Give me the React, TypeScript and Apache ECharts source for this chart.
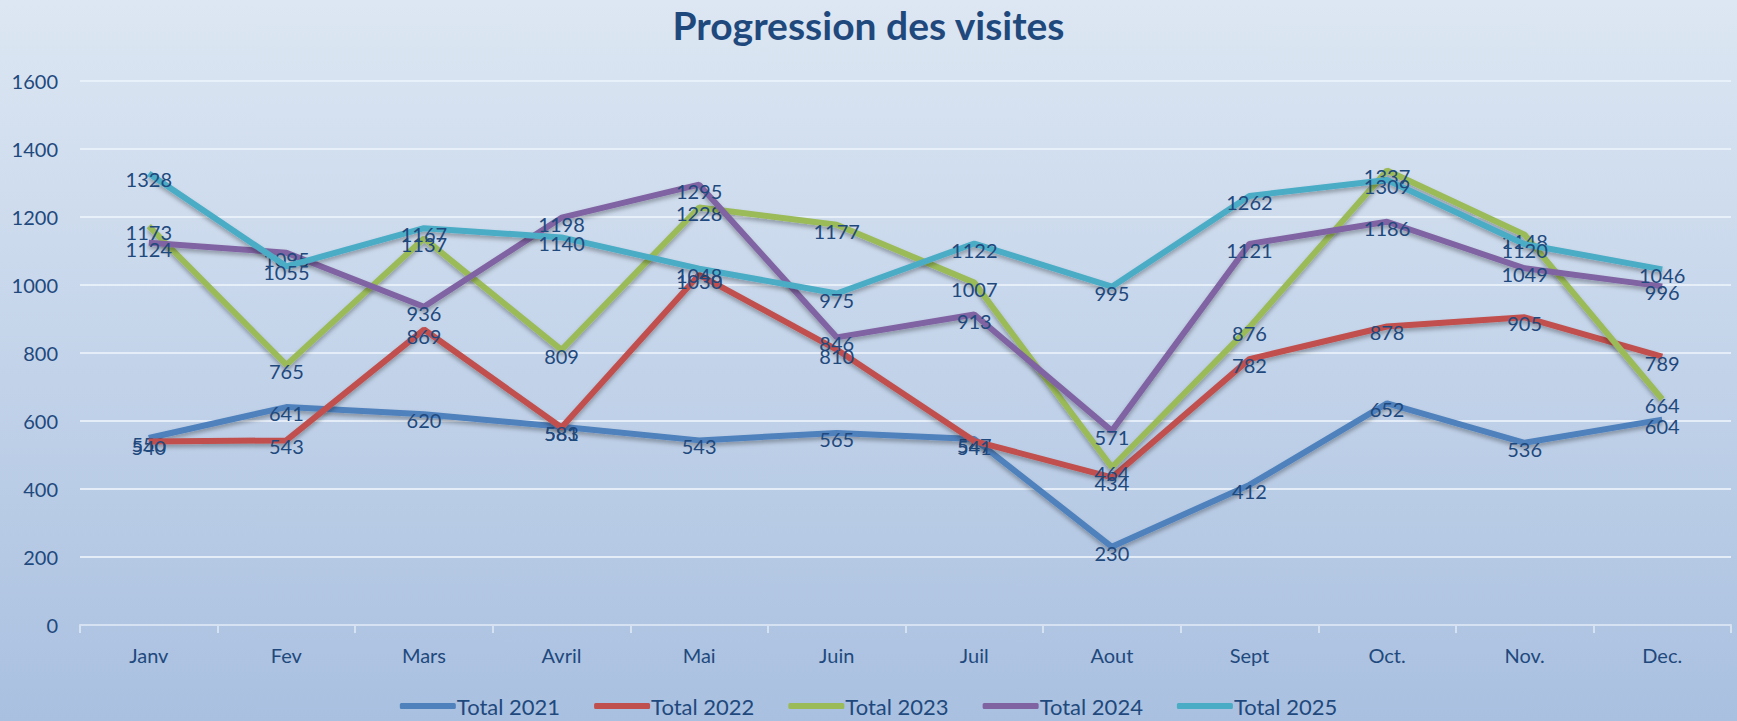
import React, { useEffect, useRef } from "react";
import * as echarts from "echarts";

const categories = ["Janv", "Fev", "Mars", "Avril", "Mai", "Juin", "Juil", "Aout", "Sept", "Oct.", "Nov.", "Dec."];
const total2021 = [550, 641, 620, 583, 543, 565, 547, 230, 412, 652, 536, 604];
const total2022 = [540, 543, 869, 581, 1030, 810, 541, 434, 782, 878, 905, 789];
const total2023 = [1173, 765, 1137, 809, 1228, 1177, 1007, 464, 876, 1337, 1148, 664];
const total2024 = [1124, 1095, 936, 1198, 1295, 846, 913, 571, 1121, 1186, 1049, 996];
const total2025 = [1328, 1055, 1167, 1140, 1048, 975, 1122, 995, 1262, 1309, 1120, 1046];
const seriesNames = ["Total 2021", "Total 2022", "Total 2023", "Total 2024", "Total 2025"];
const seriesColors = ["#4F81BD", "#C0504D", "#9BBB59", "#8064A2", "#4BACC6"];

const FONT = "Lato, 'Noto Sans', sans-serif";
const TEXT = "#1F497D";

export default function App() {
  const ref = useRef<HTMLDivElement>(null);
  useEffect(() => {
    document.body.style.margin = "0";
    const chart = echarts.init(ref.current!, null, { renderer: "svg" });
    const allData = [total2021, total2022, total2023, total2024, total2025];
    chart.setOption({
      animation: false,
      backgroundColor: new echarts.graphic.LinearGradient(0, 0, 0, 1, [
        { offset: 0, color: "#dde7f3" },
        { offset: 1, color: "#a9c0e0" },
      ]),
      title: {
        text: "Progression des visites",
        left: "center",
        top: 0,
        textStyle: { fontFamily: FONT, fontWeight: "bold", fontSize: 39, color: TEXT },
      },
      legend: {
        bottom: -1,
        left: "center",
        itemWidth: 56,
        itemHeight: 6,
        itemGap: 34,
        icon: "roundRect",
        textStyle: { fontFamily: FONT, fontSize: 22, color: TEXT, padding: [0, 0, 0, -4] },
        data: seriesNames,
      },
      grid: { left: 80, right: 6, top: 81, bottom: 96, containLabel: false },
      xAxis: {
        type: "category",
        data: categories,
        boundaryGap: true,
        axisLine: { show: true, lineStyle: { color: "#d6e2f2", width: 2 } },
        axisTick: { show: true, length: 8, lineStyle: { color: "#d6e2f2", width: 2 } },
        axisLabel: { fontFamily: FONT, fontSize: 20, color: TEXT, margin: 20 },
        splitLine: { show: false },
      },
      yAxis: {
        type: "value",
        min: 0,
        max: 1600,
        interval: 200,
        axisLine: { show: false },
        axisTick: { show: false },
        axisLabel: {
          fontFamily: FONT,
          fontSize: 20,
          color: TEXT,
          margin: 22,
          formatter: (v: number) => String(v),
        },
        splitLine: { lineStyle: { color: "rgba(235,242,250,0.85)", width: 2 } },
      },
      series: seriesNames.map((name, i) => ({
        name,
        type: "line",
        data: allData[i],
        symbol: "circle",
        symbolSize: 0.1,
        itemStyle: { color: seriesColors[i] },
        lineStyle: {
          width: 6,
          color: seriesColors[i],
          shadowColor: "rgba(0,0,0,0.3)",
          shadowBlur: 4,
          shadowOffsetY: 3,
        },
        label: {
          show: true,
          position: "inside",
          offset: [0, 6],
          fontFamily: FONT,
          fontSize: 20,
          color: TEXT,
        },
        z: 2 + i,
      })),
    });
    return () => chart.dispose();
  }, []);
  return <div ref={ref} style={{ width: 1737, height: 721 }} />;
}
